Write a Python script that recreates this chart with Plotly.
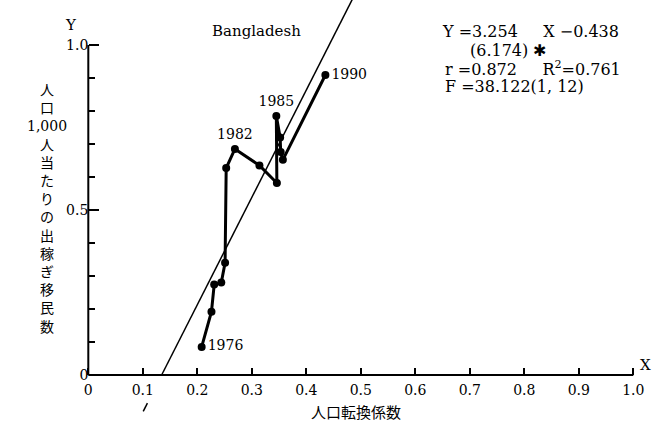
import plotly.graph_objects as go

# ---------------- data ----------------
x_vals = [0.208, 0.226, 0.231, 0.244, 0.251, 0.253, 0.269, 0.314, 0.346, 0.345, 0.352, 0.353, 0.357, 0.435]
y_vals = [0.085, 0.192, 0.274, 0.280, 0.340, 0.627, 0.685, 0.635, 0.582, 0.785, 0.720, 0.676, 0.652, 0.909]
point_labels = ["1976", "", "", "", "", "", "1982", "", "", "1985", "", "", "", "1990"]

slope = 3.254
intercept = -0.438

x_tickvals = [0, 0.1, 0.2, 0.3, 0.4, 0.5, 0.6, 0.7, 0.8, 0.9, 1.0]
x_ticktext = ["0", "0.1", "0.2", "0.3", "0.4", "0.5", "0.6", "0.7", "0.8", "0.9", "1.0"]
y_tickvals = [0, 0.5, 1.0]
y_ticktext = ["0", "0.5", "1.0"]
y_minor_tickvals = [0.1, 0.2, 0.3, 0.4, 0.6, 0.7, 0.8, 0.9]

NB = "\u00a0"
eq_lines = [
    "Y" + NB + "=3.254" + NB * 5 + "X" + NB + "−0.438",
    "(6.174)" + NB + "✱",
    "r" + NB + "=0.872" + NB * 5 + "R<sup>2</sup>=0.761",
    "F" + NB + "=38.122(1," + NB + "12)",
]
title_text = "Bangladesh"
x_title = "人口転換係数"
y_title_parts = ["人", "口", "1,000", "人", "当", "た", "り", "の", "出", "稼", "ぎ", "移", "民", "数"]

# ---------------- layout geometry ----------------
W, H = 653, 433
BOX_L, BOX_R, BOX_T, BOX_B = 88.3, 633.3, 45.0, 375.0   # pixel frame of the 0..1 x 0..1 box


def px(xp):
    return xp / W


def py(yp):
    return 1 - yp / H


X_RANGE = [0, 1]
Y_RANGE = [0, 1]
sx = (BOX_R - BOX_L) / (X_RANGE[1] - X_RANGE[0])
sy = (BOX_B - BOX_T) / (Y_RANGE[1] - Y_RANGE[0])
# the plotting area spans the whole figure; ranges chosen so 0..1 falls on the frame
full_x_range = [X_RANGE[0] - BOX_L / sx, X_RANGE[0] + (W - BOX_L) / sx]
full_y_range = [Y_RANGE[0] - (H - BOX_B) / sy, Y_RANGE[0] + BOX_B / sy]

# regression line: y values of segment ends, x from the equation
line_y = [0.0, 1.25, None, -0.085, -0.11]
line_x = [None if v is None else (v - intercept) / slope for v in line_y]

label_pos = []
for lab in point_labels:
    if lab in ("1976", "1990"):
        label_pos.append("middle right")
    else:
        label_pos.append("top center")

SERIF = "DejaVu Serif"
CJK = "Noto Sans CJK JP"

fig = go.Figure()
fig.add_trace(go.Scatter(
    x=line_x, y=line_y, mode="lines",
    line=dict(color="black", width=1.5), connectgaps=False,
    showlegend=False, hoverinfo="skip",
))
fig.add_trace(go.Scatter(
    x=x_vals, y=y_vals, mode="lines+markers+text",
    text=point_labels, textposition=label_pos,
    textfont=dict(family=SERIF, size=14, color="black"),
    line=dict(color="black", width=3),
    marker=dict(color="black", size=8),
    cliponaxis=False, showlegend=False, hoverinfo="skip",
))


def note(text, xp, yp, size=15, family=SERIF, xanchor="center"):
    return dict(text=text, x=px(xp), y=py(yp), xref="paper", yref="paper",
                xanchor=xanchor, yanchor="middle", showarrow=False, align="center",
                font=dict(family=family, size=size, color="black"))


annotations = [note(title_text, 256, 31)]
eq_x = [440, 468, 443, 443]
eq_y = [32, 50, 68, 87]
for t, ex, ey in zip(eq_lines, eq_x, eq_y):
    annotations.append(note(t, ex, ey, size=16, xanchor="left"))
annotations.append(note("Y", 71, 25))
annotations.append(note("X", 645, 365))
annotations.append(note(x_title, 356, 411, family=CJK))
ytitle = "<br>".join(
    [('<span style="font-family:DejaVu Serif">%s</span>' % p) if p[0].isdigit() else p for p in y_title_parts]
)
annotations.append(note(ytitle, 47, 207, size=14, family=CJK))

# axis lines along y=0 (x from 0 to 1) and x=0 (y from 0 to 1)
axis_shapes = [
    dict(type="line", xref="x", yref="y", x0=X_RANGE[0], x1=X_RANGE[1], y0=Y_RANGE[0], y1=Y_RANGE[0],
         line=dict(color="black", width=2), layer="above"),
    dict(type="line", xref="x", yref="y", x0=X_RANGE[0], x1=X_RANGE[0], y0=Y_RANGE[0], y1=Y_RANGE[1],
         line=dict(color="black", width=2), layer="above"),
]

fig.update_layout(
    width=W, height=H,
    margin=dict(l=0, r=0, t=0, b=0),
    paper_bgcolor="white", plot_bgcolor="white",
    showlegend=False,
    annotations=annotations,
    shapes=axis_shapes,
    xaxis=dict(domain=[0, 1], range=full_x_range, anchor="free", position=py(BOX_B), side="bottom",
               tickvals=x_tickvals, ticktext=x_ticktext, ticks="inside", ticklen=7,
               tickwidth=1.5, tickcolor="black", ticklabelstandoff=5,
               showline=False, showgrid=False, zeroline=False, fixedrange=True,
               tickfont=dict(family=SERIF, size=14, color="black")),
    yaxis=dict(domain=[0, 1], range=full_y_range, anchor="free", position=px(BOX_L), side="left",
               tickvals=y_tickvals, ticktext=y_ticktext, ticks="inside", ticklen=10,
               tickwidth=1.5, tickcolor="black",
               minor=dict(tickmode="array", tickvals=y_minor_tickvals, ticks="inside", ticklen=6,
                          tickwidth=1.5, tickcolor="black", showgrid=False),
               showline=False, showgrid=False, zeroline=False, fixedrange=True,
               tickfont=dict(family=SERIF, size=14, color="black")),
)

fig.write_html("out.html")
